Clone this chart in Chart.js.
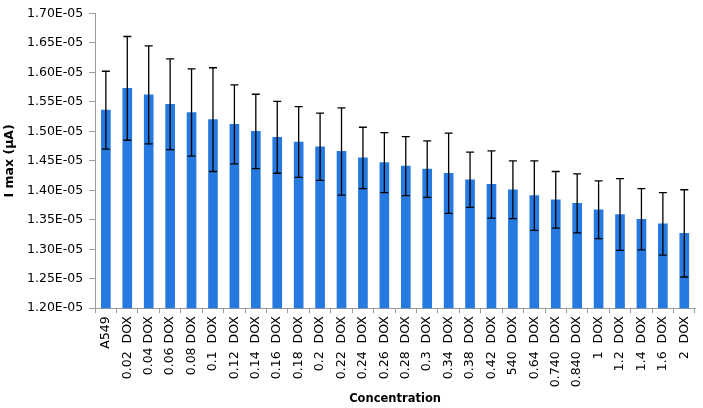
<!DOCTYPE html>
<html>
<head>
<meta charset="utf-8">
<script src="https://cdn.jsdelivr.net/npm/chart.js@4/dist/chart.umd.min.js"></script>
<style>
html,body{margin:0;padding:0;background:#fff;}
#wrap{width:703px;height:408px;position:relative;}
</style>
</head>
<body>
<div id="wrap"><canvas id="c" width="703" height="408"></canvas></div>
<script>
const categories = ["A549","0.02  DOX","0.04 DOX","0.06 DOX","0.08 DOX","0.1  DOX","0.12  DOX","0.14  DOX","0.16  DOX","0.18  DOX","0.2  DOX","0.22  DOX","0.24  DOX","0.26  DOX","0.28  DOX","0.3  DOX","0.34  DOX","0.38  DOX","0.42  DOX","540  DOX","0.64  DOX","0.740  DOX","0.840  DOX","1  DOX","1.2  DOX","1.4  DOX","1.6  DOX","2  DOX"];
const iMax = [1.536e-5,1.573e-5,1.562e-5,1.546e-5,1.532e-5,1.520e-5,1.512e-5,1.500e-5,1.490e-5,1.482e-5,1.474e-5,1.466e-5,1.455e-5,1.447e-5,1.441e-5,1.436e-5,1.429e-5,1.418e-5,1.410e-5,1.401e-5,1.391e-5,1.384e-5,1.378e-5,1.367e-5,1.359e-5,1.351e-5,1.343e-5,1.327e-5];
const iMaxErr = [0.066e-5,0.088e-5,0.083e-5,0.077e-5,0.074e-5,0.088e-5,0.067e-5,0.063e-5,0.061e-5,0.060e-5,0.057e-5,0.074e-5,0.052e-5,0.051e-5,0.050e-5,0.048e-5,0.068e-5,0.047e-5,0.057e-5,0.049e-5,0.059e-5,0.048e-5,0.050e-5,0.049e-5,0.061e-5,0.052e-5,0.053e-5,0.074e-5];
const yTicks = [1.20e-5,1.25e-5,1.30e-5,1.35e-5,1.40e-5,1.45e-5,1.50e-5,1.55e-5,1.60e-5,1.65e-5,1.70e-5];
const yTickLabels = ["1.20E-05","1.25E-05","1.30E-05","1.35E-05","1.40E-05","1.45E-05","1.50E-05","1.55E-05","1.60E-05","1.65E-05","1.70E-05"];

const errorBars = {
  id: 'errorBars',
  afterDatasetsDraw(chart) {
    const ctx = chart.ctx;
    const meta = chart.getDatasetMeta(0);
    const ys = chart.scales.y;
    ctx.save();
    ctx.strokeStyle = '#000';
    ctx.lineWidth = 1.3;
    meta.data.forEach((bar, i) => {
      const x = bar.x;
      const t = ys.getPixelForValue(iMax[i] + iMaxErr[i]);
      const b = ys.getPixelForValue(iMax[i] - iMaxErr[i]);
      ctx.beginPath();
      ctx.moveTo(x, t); ctx.lineTo(x, b);
      ctx.moveTo(x - 4, t); ctx.lineTo(x + 4, t);
      ctx.moveTo(x - 4, b); ctx.lineTo(x + 4, b);
      ctx.stroke();
    });
    ctx.restore();
  }
};

const FONT = 'DejaVu Sans';
new Chart(document.getElementById('c'), {
  type: 'bar',
  data: {
    labels: categories,
    datasets: [{
      data: iMax,
      backgroundColor: '#2679DE',
      barThickness: 9
    }]
  },
  options: {
    responsive: false,
    animation: false,
    layout: { padding: { top: 7, right: 8, left: 2, bottom: 0 } },
    plugins: { legend: { display: false }, tooltip: { enabled: false } },
    scales: {
      x: {
        grid: { display: true, drawOnChartArea: false, drawTicks: true, tickLength: 5, color: '#9a9a9a', offset: true },
        border: { color: '#9a9a9a', width: 1 },
        ticks: { autoSkip: false, minRotation: 90, maxRotation: 90, color: '#000', font: { family: FONT, size: 12.5 }, padding: 3 },
        title: { display: true, text: 'Concentration', color: '#000', font: { family: FONT, size: 11.5, weight: 'bold' }, padding: { top: 2, bottom: 2 } }
      },
      y: {
        min: 1.2e-5,
        max: 1.7e-5,
        afterBuildTicks(scale) { scale.ticks = yTicks.map(v => ({ value: v })); },
        grid: { display: true, drawOnChartArea: false, drawTicks: true, tickLength: 6, color: '#9a9a9a' },
        border: { color: '#9a9a9a', width: 1 },
        ticks: {
          color: '#000', font: { family: FONT, size: 12.5 }, padding: 6,
          callback: (v, i) => yTickLabels[i]
        },
        title: { display: true, text: 'I max (µA)', color: '#000', font: { family: FONT, size: 12.5, weight: 'bold' }, padding: { top: 0, bottom: 4 } }
      }
    }
  },
  plugins: [errorBars]
});
</script>
</body>
</html>
